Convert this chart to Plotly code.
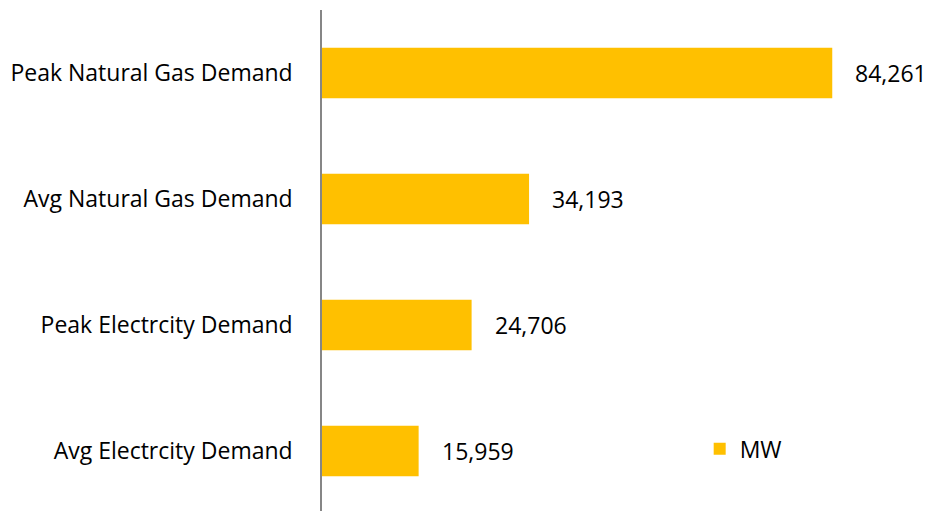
import plotly.graph_objects as go

categories = ["Peak Natural Gas Demand", "Avg Natural Gas Demand",
              "Peak Electrcity Demand", "Avg Electrcity Demand"]
values = [84261, 34193, 24706, 15959]
series_name = "MW"

GOLD = "#FFC000"
FONT = "'Open Sans', sans-serif"
SIZE = 23

fig = go.Figure(go.Bar(
    x=values, y=categories, orientation="h", name=series_name,
    marker=dict(color=GOLD, line=dict(width=0)), width=0.4,
    showlegend=True,
))

# value labels a little off the bar ends
for v, c in zip(values, categories):
    fig.add_annotation(x=v, y=c, text=f"{v:,}", showarrow=False,
                       xanchor="left", xshift=21,
                       font=dict(family=FONT, size=SIZE, color="#000000"))

fig.update_layout(
    width=929, height=511,
    margin=dict(l=322, r=62, t=10, b=0),
    paper_bgcolor="white", plot_bgcolor="white",
    font=dict(family=FONT, size=SIZE, color="#000000"),
    legend=dict(x=0.693, y=0.124, xanchor="left", yanchor="middle",
                font=dict(family=FONT, size=SIZE, color="#000000"),
                bgcolor="rgba(0,0,0,0)", itemwidth=30),
)
fig.update_xaxes(range=[0, 90000], visible=False, showgrid=False)
fig.update_yaxes(categoryorder="array", categoryarray=categories,
                 range=[3.476, -0.5], showline=True, linecolor="#868686",
                 linewidth=1.5, ticks="", showgrid=False, ticklabelstandoff=23,
                 tickfont=dict(family=FONT, size=SIZE, color="#000000"))

fig.write_html("out.html", config={"displayModeBar": False},
               post_script="document.body.style.margin='0';")
